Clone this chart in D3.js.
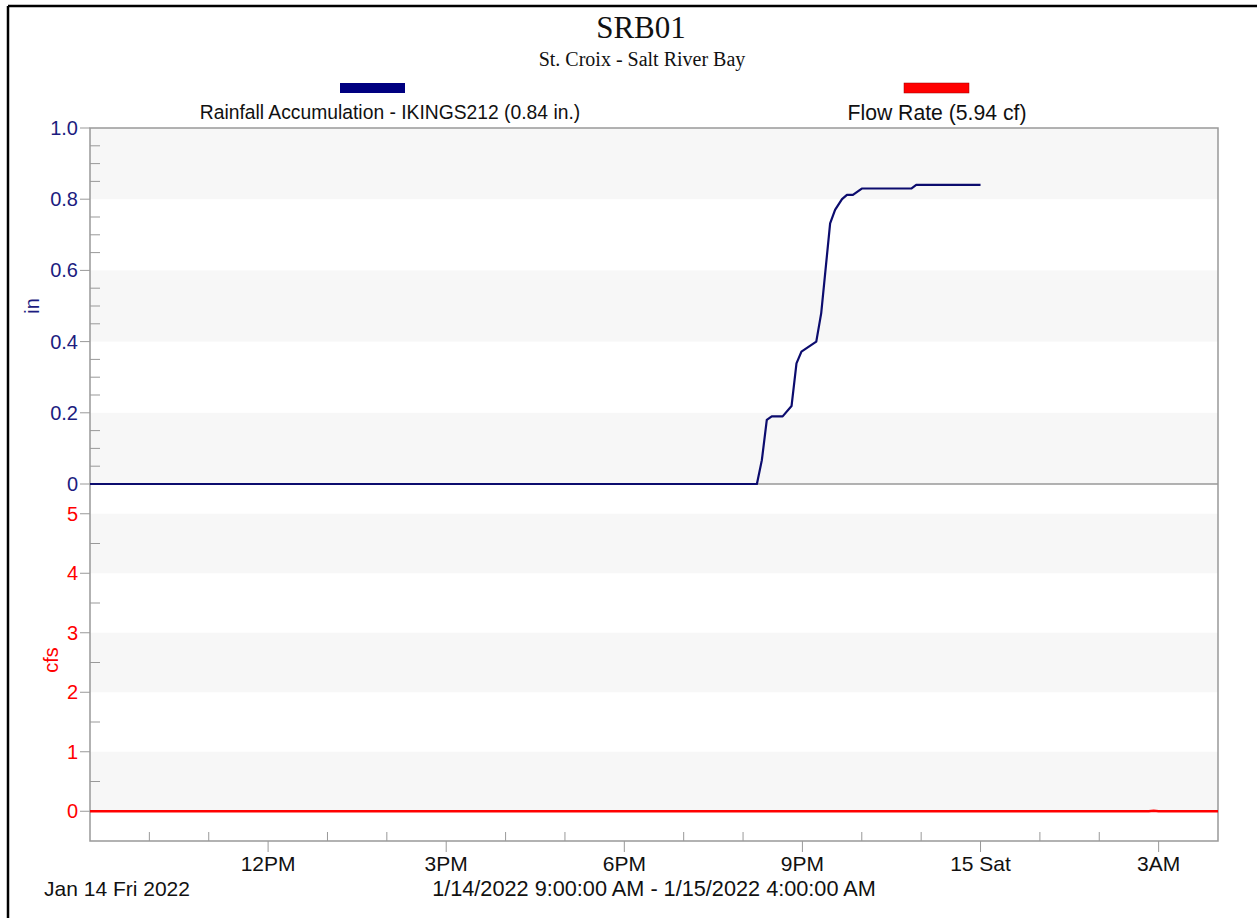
<!DOCTYPE html>
<html><head><meta charset="utf-8">
<script src="https://cdn.jsdelivr.net/npm/d3@7"></script>
<style>body{margin:0;background:#fff}svg{display:block}</style>
</head><body>
<script>
const rainTimes = ["2022-01-14T09:00","2022-01-14T20:14","2022-01-14T20:19","2022-01-14T20:24","2022-01-14T20:29","2022-01-14T20:40","2022-01-14T20:49","2022-01-14T20:54","2022-01-14T20:59","2022-01-14T21:14","2022-01-14T21:19","2022-01-14T21:28","2022-01-14T21:33","2022-01-14T21:40","2022-01-14T21:45","2022-01-14T21:51","2022-01-14T22:00","2022-01-14T22:50","2022-01-14T22:55","2022-01-15T00:00"];
const rainValues = [0,0,0.067,0.18,0.19,0.19,0.219,0.339,0.372,0.40,0.48,0.732,0.77,0.80,0.812,0.812,0.83,0.83,0.84,0.84];
const flowTimes = ["2022-01-14T09:00","2022-01-15T02:50","2022-01-15T02:55","2022-01-15T03:00","2022-01-15T04:00"];
const flowValues = [0,0,0.01,0,0];
const rainTicks = [0,0.2,0.4,0.6,0.8,1.0];
const flowTicks = [0,1,2,3,4,5];
const xTickLabels = ["12PM","3PM","6PM","9PM","15 Sat","3AM"];
const xTickTimes = ["2022-01-14T12:00","2022-01-14T15:00","2022-01-14T18:00","2022-01-14T21:00","2022-01-15T00:00","2022-01-15T03:00"];

const W=1257,H=918;
const svg=d3.select("body").append("svg").attr("width",W).attr("height",H);
const parse=d3.timeParse("%Y-%m-%dT%H:%M");
const L=90,R=1218,T=128,MID=484,B=841;
const NAVY="#1c1c80", RED="#ff0000";
const x=d3.scaleTime().domain([parse("2022-01-14T09:00"),parse("2022-01-15T04:00")]).range([L,R]);
const yR=d3.scaleLinear().domain([0,1]).range([MID,T]);
const yF=d3.scaleLinear().domain([-0.5,5.5]).range([B,MID]);

// outer border
svg.append("line").attr("x1",8).attr("x2",W).attr("y1",6).attr("y2",6).attr("stroke","#000").attr("stroke-width",2.5);
svg.append("line").attr("x1",8).attr("x2",8).attr("y1",6).attr("y2",H).attr("stroke","#000").attr("stroke-width",2.5);

// bands
const band="#f7f7f7";
[[1.0,0.8],[0.6,0.4],[0.2,0]].forEach(([a,b])=>svg.append("rect").attr("x",L).attr("width",R-L).attr("y",yR(a)).attr("height",yR(b)-yR(a)).attr("fill",band));
[[5,4],[3,2],[1,0]].forEach(([a,b])=>svg.append("rect").attr("x",L).attr("width",R-L).attr("y",yF(a)).attr("height",yF(b)-yF(a)).attr("fill",band));

// frame
const g="#999";
svg.append("rect").attr("x",L).attr("y",T).attr("width",R-L).attr("height",B-T).attr("fill","none").attr("stroke",g).attr("stroke-width",1.5);
svg.append("line").attr("x1",L).attr("x2",R).attr("y1",MID).attr("y2",MID).attr("stroke",g).attr("stroke-width",1.5);

// y axes
const font="Arial, 'Liberation Sans', sans-serif";
function yAxis(scale,ticks,minor,color,fmt){
  const ga=svg.append("g");
  minor.forEach(v=>ga.append("line").attr("x1",L).attr("x2",L+10).attr("y1",scale(v)).attr("y2",scale(v)).attr("stroke",g));
  ticks.forEach(v=>{
    ga.append("line").attr("x1",L-10).attr("x2",L).attr("y1",scale(v)).attr("y2",scale(v)).attr("stroke",g);
    ga.append("text").attr("x",L-12).attr("y",scale(v)).attr("dy","0.35em").attr("text-anchor","end")
      .attr("font-family",font).attr("font-size",20).attr("fill",color).text(fmt(v));
  });
}
const rainMinor=d3.range(0,1.0001,0.05).filter(v=>Math.abs(v*5-Math.round(v*5))>1e-6);
yAxis(yR,rainTicks,rainMinor,NAVY,v=>v===0?"0":d3.format(".1f")(v));
yAxis(yF,flowTicks,[0.5,1.5,2.5,3.5,4.5],RED,v=>String(v));

svg.append("text").attr("transform",`translate(39,${(T+MID)/2}) rotate(-90)`).attr("text-anchor","middle")
  .attr("font-family",font).attr("font-size",20).attr("fill",NAVY).text("in");
svg.append("text").attr("transform",`translate(58,660) rotate(-90)`).attr("text-anchor","middle")
  .attr("font-family",font).attr("font-size",20).attr("fill",RED).text("cfs");

// x axis
const hours=d3.timeHour.range(parse("2022-01-14T10:00"),parse("2022-01-15T04:00"));
hours.forEach(h=>{ if(h.getHours()%3!==0) svg.append("line").attr("x1",x(h)).attr("x2",x(h)).attr("y1",B).attr("y2",B-9).attr("stroke",g);});
xTickTimes.forEach((t,i)=>{
  const xv=x(parse(t));
  svg.append("line").attr("x1",xv).attr("x2",xv).attr("y1",B).attr("y2",B+11).attr("stroke",g);
  svg.append("text").attr("x",xv).attr("y",871).attr("text-anchor","middle").attr("font-family",font).attr("font-size",21).attr("fill","#111").text(xTickLabels[i]);
});
svg.append("text").attr("x",117).attr("y",896).attr("text-anchor","middle").attr("font-family",font).attr("font-size",21).attr("fill","#111").text("Jan 14 Fri 2022");
svg.append("text").attr("x",654).attr("y",896).attr("text-anchor","middle").attr("font-family",font).attr("font-size",21.7).attr("fill","#111").text("1/14/2022 9:00:00 AM - 1/15/2022 4:00:00 AM");

// lines
const flowLine=d3.line().x((d,i)=>x(parse(flowTimes[i]))).y(d=>yF(d));
svg.append("path").attr("d",flowLine(flowValues)).attr("fill","none").attr("stroke",RED).attr("stroke-width",2.5);
const rainLine=d3.line().x((d,i)=>x(parse(rainTimes[i]))).y(d=>yR(d));
svg.append("path").attr("d",rainLine(rainValues)).attr("fill","none").attr("stroke","#0c0c6e").attr("stroke-width",2.2).attr("stroke-linejoin","round");

// title
const serif="'Times New Roman','Liberation Serif',serif";
svg.append("text").attr("x",641).attr("y",38).attr("text-anchor","middle").attr("font-family",serif).attr("font-size",31).attr("fill","#111").text("SRB01");
svg.append("text").attr("x",642).attr("y",66).attr("text-anchor","middle").attr("font-family",serif).attr("font-size",20).attr("fill","#111").text("St. Croix - Salt River Bay");

// legend
svg.append("rect").attr("x",340).attr("y",83).attr("width",65).attr("height",10).attr("fill","#000080");
svg.append("text").attr("x",390).attr("y",119).attr("text-anchor","middle").attr("font-family",font).attr("font-size",19.3).attr("fill","#111").text("Rainfall Accumulation - IKINGS212 (0.84 in.)");
svg.append("rect").attr("x",904).attr("y",83).attr("width",65).attr("height",10).attr("fill",RED).attr("stroke","#900").attr("stroke-width",0.5);
svg.append("text").attr("x",937).attr("y",120).attr("text-anchor","middle").attr("font-family",font).attr("font-size",21.2).attr("fill","#111").text("Flow Rate (5.94 cf)");
</script>
</body></html>
